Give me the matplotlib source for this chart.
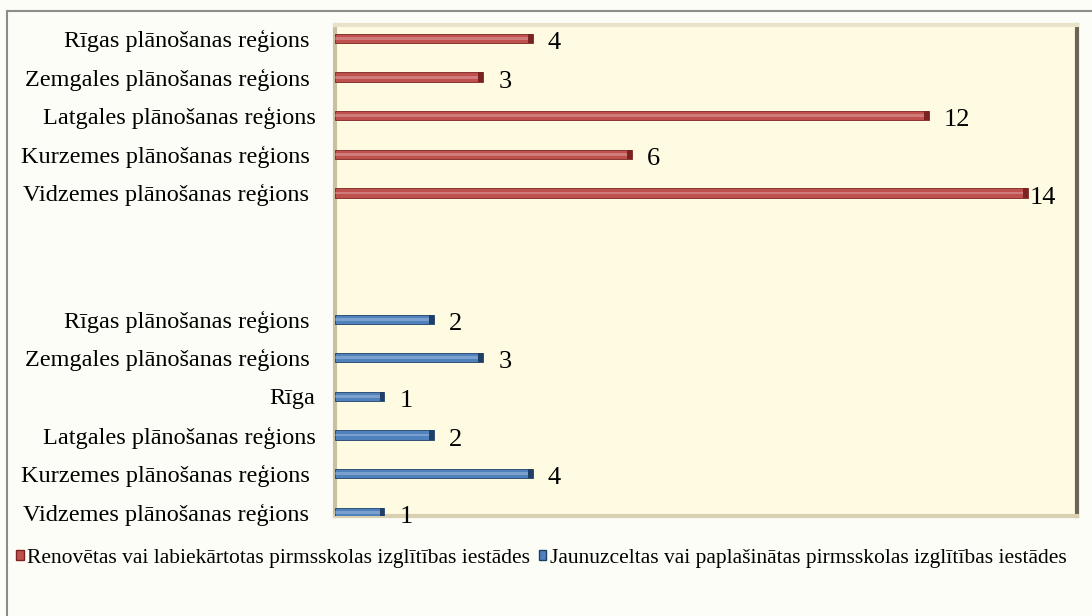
import matplotlib.pyplot as plt
from matplotlib.patches import Rectangle

plt.rcParams['font.family'] = ['Liberation Serif', 'DejaVu Serif']

# renovated (red) series, top to bottom
red_labels = ["Rīgas plānošanas reģions ", "Zemgales plānošanas reģions ", "Latgales plānošanas reģions",
              "Kurzemes plānošanas reģions ", "Vidzemes plānošanas reģions "]
red_values = [4, 3, 12, 6, 14]
# new / extended (blue) series, top to bottom
blue_labels = ["Rīgas plānošanas reģions ", "Zemgales plānošanas reģions ", "Rīga",
               "Latgales plānošanas reģions", "Kurzemes plānošanas reģions ", "Vidzemes plānošanas reģions "]
blue_values = [2, 3, 1, 2, 4, 1]
legend_names = ["Renovētas vai labiekārtotas pirmsskolas izglītības iestādes",
                "Jaunuzceltas vai paplašinātas pirmsskolas izglītības iestādes"]

red = "#C0504D"; red_dark = "#7A2320"
blue = "#4F81BD"; blue_dark = "#1F3F66"

fig = plt.figure(figsize=(10.92, 6.16), dpi=100, facecolor="#FDFDF8")
fig.patches.append(Rectangle((7/1092, -0.05), 1.1, (616-11)/616 + 0.05, transform=fig.transFigure,
                             facecolor="none", edgecolor="#8C8C8C", linewidth=1.5))

ax = fig.add_axes([335/1092, 1-516/616, (1077-335)/1092, (516-25)/616])
ax.set_facecolor("#FFFBE3")

red_y = [i for i in range(len(red_values))]
blue_y = [i + 7.27 for i in range(len(blue_values))]
h = 0.24

for ys, vals, c, cd in [(red_y, red_values, red, red_dark), (blue_y, blue_values, blue, blue_dark)]:
    ax.barh(ys, vals, height=h, color=c, edgecolor=cd, linewidth=0.6, zorder=3)
    ax.barh(ys, vals, height=h*0.3, color="white", alpha=0.25, linewidth=0, zorder=4)
    ax.barh(ys, [0.1]*len(vals), left=[v-0.1 for v in vals], height=h, color=cd, linewidth=0, zorder=5)
    for y, v in zip(ys, vals):
        off = 0.05 if v >= 14 else 0.3
        ax.text(v + off, y + 0.12, str(v), fontsize=19, va="center", ha="left", zorder=6)

ax.set_yticks(red_y + blue_y)
ax.set_yticklabels(red_labels + blue_labels, fontsize=17.5)
ax.tick_params(axis="y", length=0, pad=14)
ax.set_xticks([])
ax.set_xlim(0, 15)
ax.set_ylim(12.37, -0.35)

ax.spines["top"].set_color("#E8E2C8")
ax.spines["top"].set_linewidth(3)
ax.spines["left"].set_color("#C9C0A0")
ax.spines["left"].set_linewidth(3)
ax.spines["bottom"].set_color("#D8D0B0")
ax.spines["bottom"].set_linewidth(3)
ax.spines["right"].set_color("#6A6456")
ax.spines["right"].set_linewidth(3)

handles = [Rectangle((0, 0), 1, 1, facecolor=red, edgecolor=red_dark),
           Rectangle((0, 0), 1, 1, facecolor=blue, edgecolor=blue_dark)]
fig.legend(handles, legend_names, loc="center left", bbox_to_anchor=(-3/1092, 1-558/616), ncol=2,
           frameon=False, fontsize=15.5, handlelength=0.35, handleheight=0.35, handletextpad=0.15,
           columnspacing=0.4)

fig.savefig("out.png", dpi=100, facecolor=fig.get_facecolor())
